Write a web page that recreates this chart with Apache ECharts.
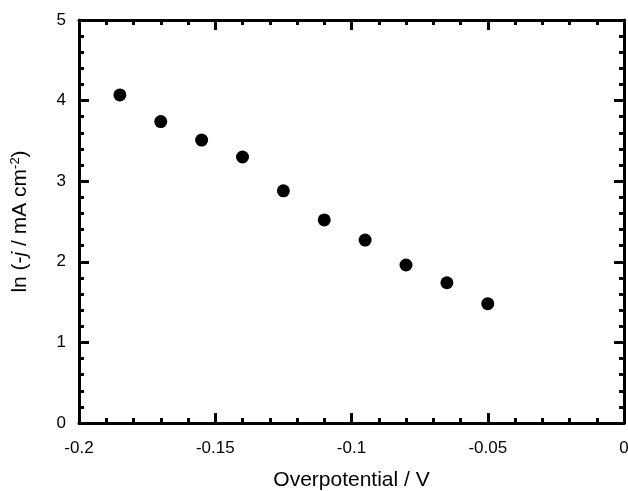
<!DOCTYPE html>
<html>
<head>
<meta charset="utf-8">
<script src="https://cdn.jsdelivr.net/npm/echarts@6/dist/echarts.min.js"></script>
<style>html,body{margin:0;padding:0;background:#fff}#c{width:628px;height:491px}</style>
</head>
<body>
<div id="c"></div>
<script>
const overpotential = [-0.185, -0.17, -0.155, -0.14, -0.125, -0.11, -0.095, -0.08, -0.065, -0.05];
const lnJ = [4.07, 3.74, 3.51, 3.30, 2.88, 2.52, 2.27, 1.96, 1.74, 1.48];
const xTicks = {min: -0.2, max: 0, interval: 0.05};
const yTicks = {min: 0, max: 5, interval: 1};

const points = overpotential.map((x, i) => [x, lnJ[i]]);
const font = 'Liberation Sans, Arial, sans-serif';
const lineStyle = {color: '#000', width: 3};
function axisCommon(showLabel) {
  return {
    axisLine: {show: true, onZero: false, lineStyle},
    axisTick: {show: true, inside: true, length: 10, lineStyle},
    minorTick: {show: true, splitNumber: 5, length: 5, lineStyle: {color: '#000', width: 3}},
    splitLine: {show: false},
    axisLabel: {show: showLabel, color: '#000', fontFamily: font, fontSize: 17}
  };
}
const chart = echarts.init(document.getElementById('c'), null, {renderer: 'canvas'});
chart.setOption({
  animation: false,
  backgroundColor: '#fff',
  grid: {left: 79, right: 4, top: 20, bottom: 68, containLabel: false, outerBoundsMode: 'none'},
  xAxis: [
    Object.assign(axisCommon(true), {
      type: 'value', position: 'bottom', min: xTicks.min, max: xTicks.max, interval: xTicks.interval,
      name: 'Overpotential / V', nameLocation: 'middle', nameGap: 47,
      nameTextStyle: {color: '#000', fontFamily: font, fontSize: 21},
      axisLabel: {show: true, color: '#000', fontFamily: font, fontSize: 17, margin: 17,
        formatter: v => String(parseFloat(v.toFixed(3)))}
    }),
    Object.assign(axisCommon(false), {
      type: 'value', position: 'top', min: xTicks.min, max: xTicks.max, interval: xTicks.interval
    })
  ],
  yAxis: [
    Object.assign(axisCommon(true), {
      type: 'value', position: 'left', min: yTicks.min, max: yTicks.max, interval: yTicks.interval,
      name: '{n|ln (-}{i|j}{n| / mA cm}{s|-2}{n|)}', nameLocation: 'middle', nameGap: 47, nameRotate: 90,
      nameTextStyle: {color: '#000', fontFamily: font, fontSize: 21,
        rich: {
          n: {fontFamily: font, fontSize: 21, color: '#000'},
          i: {fontFamily: font, fontSize: 21, color: '#000', fontStyle: 'italic'},
          s: {fontFamily: font, fontSize: 13, color: '#000', verticalAlign: 'top', padding: [0, 0, 10, 0]}
        }},
      axisLabel: {show: true, color: '#000', fontFamily: font, fontSize: 17, margin: 13}
    }),
    Object.assign(axisCommon(false), {
      type: 'value', position: 'right', min: yTicks.min, max: yTicks.max, interval: yTicks.interval
    })
  ],
  series: [{
    type: 'scatter', xAxisIndex: 0, yAxisIndex: 0,
    data: points, symbol: 'circle', symbolSize: 13,
    itemStyle: {color: '#000', opacity: 1}
  }]
});
</script>
</body>
</html>
